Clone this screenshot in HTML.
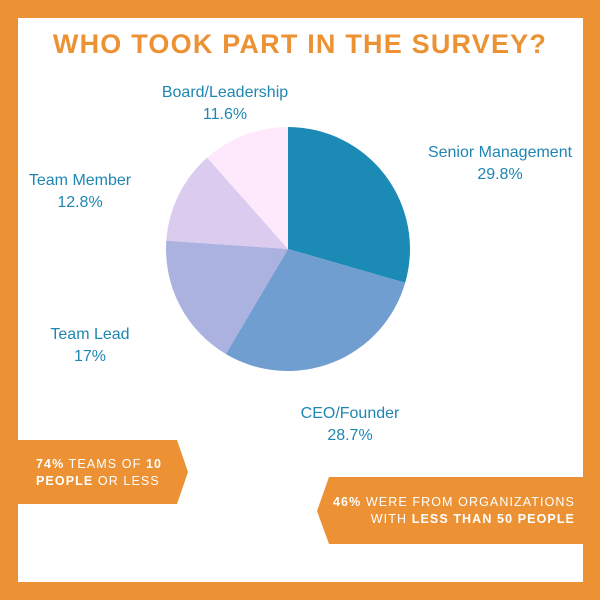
<!DOCTYPE html>
<html><head><style>
body{margin:0;width:600px;height:600px;background:#ec9235;position:relative;overflow:hidden;font-family:"Liberation Sans",sans-serif}
.box{position:absolute;left:18px;top:18px;width:565px;height:564px;background:#fff}
.t{position:absolute;left:0;width:600px;top:29px;text-align:center;color:#ec9235;font-weight:bold;font-size:27px;letter-spacing:1.2px}
.l{position:absolute;color:#1f86b3;font-size:16px;text-align:center;line-height:22px}
.b{position:absolute;color:#fff;font-size:12.5px;letter-spacing:1.1px;line-height:17px}
</style></head><body>
<div class="box"></div>
<div class="t">WHO TOOK PART IN THE SURVEY?</div>
<svg style="position:absolute;left:0;top:0" width="600" height="600">
<g transform="translate(288,249)">
<path d="M0,0 L0,-122 A122,122 0 0 1 117.2,33.8 Z" fill="#1b8ab5"/>
<path d="M0,0 L117.2,33.8 A122,122 0 0 1 -62.2,105.0 Z" fill="#719ed0"/>
<path d="M0,0 L-62.2,105.0 A122,122 0 0 1 -121.7,-8.4 Z" fill="#abb2e0"/>
<path d="M0,0 L-121.7,-8.4 A122,122 0 0 1 -80.8,-91.4 Z" fill="#dacbef"/>
<path d="M0,0 L-80.8,-91.4 A122,122 0 0 1 0,-122 Z" fill="#fde9fb"/>
</g>
<polygon points="18,440 177,440 188,472 177,504 18,504" fill="#ec9235"/>
<polygon points="329,477 583,477 583,544 329,544 317,511" fill="#ec9235"/>
</svg>
<div class="l" style="left:150px;top:82px;width:150px">Board/Leadership<br>11.6%</div>
<div class="l" style="left:410px;top:142px;width:180px">Senior Management<br>29.8%</div>
<div class="l" style="left:10px;top:170px;width:140px">Team Member<br>12.8%</div>
<div class="l" style="left:20px;top:324px;width:140px">Team Lead<br>17%</div>
<div class="l" style="left:275px;top:403px;width:150px">CEO/Founder<br>28.7%</div>
<div class="b" style="left:36px;top:456px"><b>74%</b> TEAMS OF <b>10</b><br><b>PEOPLE</b> OR LESS</div>
<div class="b" style="right:25px;top:494px;text-align:right;width:260px"><b>46%</b> WERE FROM ORGANIZATIONS<br>WITH <b>LESS THAN 50 PEOPLE</b></div>
</body></html>
